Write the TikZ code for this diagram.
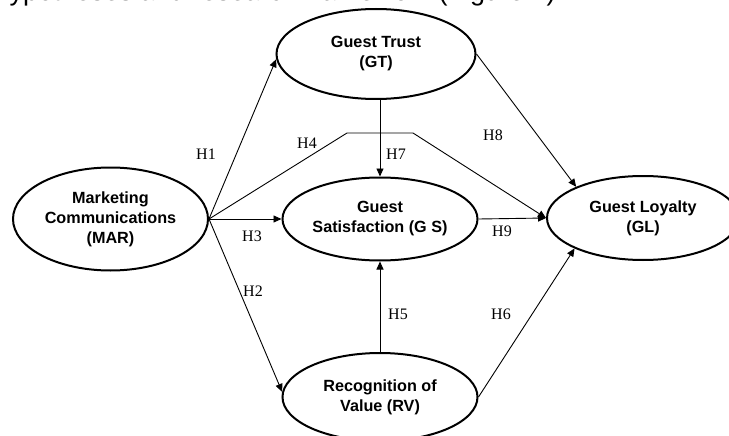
\documentclass[tikz,border=0pt]{standalone}
\usepackage{fontspec}
\setmainfont{Liberation Serif}
\setsansfont{Liberation Sans}
\usetikzlibrary{shapes.geometric,arrows.meta}
\begin{document}
\begin{tikzpicture}[x=1pt,y=-1pt,
  construct/.style={ellipse,draw,line width=2pt,inner sep=0pt,align=center,
    font=\sffamily\bfseries\fontsize{16.2pt}{20pt}\selectfont},
  link/.style={line width=0.9pt,-{Triangle[length=8pt,width=7pt]}},
  hyp/.style={font=\fontsize{16pt}{18pt}\selectfont,inner sep=0pt},
]
\useasboundingbox (0,0) rectangle (729,436);
\clip (0,0) rectangle (729,436);
\node[anchor=base east, font=\sffamily\fontsize{27pt}{30pt}\selectfont, inner sep=0pt] (title) at (556,1) {Hypotheses and research framework (Figure 1)};

\node[construct, minimum width=195pt, minimum height=103pt] (MAR) at (110.5,219) {Marketing\\Communications\\(MAR)};
\node[construct, minimum width=199pt, minimum height=90pt] (GT) at (376,54) {Guest Trust\\(GT)};
\node[construct, minimum width=195pt, minimum height=83pt] (GS) at (380,219) {Guest\\Satisfaction (G S)};
\node[construct, minimum width=192pt, minimum height=84pt] (GL) at (643,218) {Guest Loyalty\\(GL)};
\node[construct, minimum width=195pt, minimum height=88pt] (RV) at (380,397) {Recognition of\\Value (RV)};

\coordinate (h4a) at (347,133);
\coordinate (h4b) at (413,133);

\draw[link] (MAR.east) -- (GT.183);
\draw[link] (MAR.east) -- (RV.177);
\draw[link] (MAR.east) -- (GS.west);
\draw[link] (MAR.east) -- (h4a) -- (h4b) -- (GL.west);
\draw[link] (GT.south -| GS.north) -- (GS.north);
\draw[link] (GT.east) -- (GL.155);
\draw[link] (RV.north) -- (GS.south);
\draw[link] (RV.east) -- (GL.204);
\draw[link] (GS.east) -- (GL.west);

\node[hyp] (H1) at (206,154) {H1};
\node[hyp] (H2) at (253,291) {H2};
\node[hyp] (H3) at (252,236) {H3};
\node[hyp] (H4) at (307,143) {H4};
\node[hyp] (H5) at (398,314) {H5};
\node[hyp] (H6) at (501,314) {H6};
\node[hyp] (H7) at (396,154) {H7};
\node[hyp] (H8) at (493,135) {H8};
\node[hyp] (H9) at (502,231) {H9};
\end{tikzpicture}
\end{document}
